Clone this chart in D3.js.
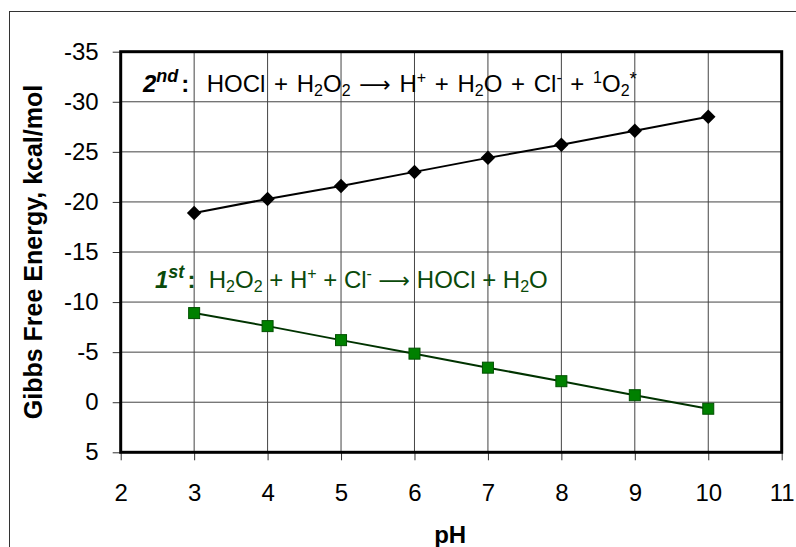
<!DOCTYPE html>
<html>
<head>
<meta charset="utf-8">
<script src="https://cdn.jsdelivr.net/npm/d3@7"></script>
<style>
  body { margin: 0; background: #fff; }
  svg { font-family: Arial, "Liberation Sans", sans-serif; }
</style>
</head>
<body>
<div id="chart"></div>
<script>
const pH = [3, 4, 5, 6, 7, 8, 9, 10];
const secondStep = [-18.9, -20.3, -21.6, -23.0, -24.4, -25.7, -27.1, -28.5];
const firstStep = [-8.9, -7.6, -6.2, -4.85, -3.45, -2.1, -0.7, 0.65];
const xTicks = [2, 3, 4, 5, 6, 7, 8, 9, 10, 11];
const yTicks = [-35, -30, -25, -20, -15, -10, -5, 0, 5];

// label pieces: [text, kind]
const secondLabel = [['2', 'num'], ['nd', 'numsup'], [':', 'colon'], ['  HOCl + H', ''], ['2', 'sub'], ['O', ''], ['2', 'sub'],
  [' ', ''], ['\u27F6', 'arrow'], [' H', ''], ['+', 'sup'], [' + H', ''], ['2', 'sub'], ['O + Cl', ''], ['-', 'sup'], [' + ', ''], ['1', 'sup'],
  ['O', ''], ['2', 'sub'], ['*', 'star']];
const firstLabel = [['1', 'num'], ['st', 'numsup'], [':', 'colon'], ['  H', ''], ['2', 'sub'], ['O', ''], ['2', 'sub'],
  [' + H', ''], ['+', 'sup'], [' + Cl', ''], ['-', 'sup'], [' ', ''], ['\u27F6', 'arrow'], [' HOCl + H', ''], ['2', 'sub'], ['O', '']];

const W = 796, H = 547;
const MARGIN = { TOP: 51.7, LEFT: 120.7, RIGHT: 14.3, BOTTOM: 94.7 };
const WIDTH = W - MARGIN.LEFT - MARGIN.RIGHT;
const HEIGHT = H - MARGIN.TOP - MARGIN.BOTTOM;
const FONT = 'Arial, "Liberation Sans", sans-serif';

const svg = d3.select('#chart').append('svg')
  .attr('width', W).attr('height', H);

// outer frame (cut at right/bottom)
svg.append('rect')
  .attr('x', 9.5).attr('y', 11.5)
  .attr('width', W).attr('height', H)
  .attr('fill', 'none').attr('stroke', '#333').attr('stroke-width', 1);

const g = svg.append('g')
  .attr('transform', `translate(${MARGIN.LEFT}, ${MARGIN.TOP})`);

const x = d3.scaleLinear().domain([2, 11]).range([0, WIDTH]);
const y = d3.scaleLinear().domain([-35, 5]).range([0, HEIGHT]);

// grid
g.append('g').selectAll('line').data(xTicks.slice(1, -1)).join('line')
  .attr('x1', d => x(d)).attr('x2', d => x(d))
  .attr('y1', 0).attr('y2', HEIGHT)
  .attr('stroke', '#444').attr('stroke-width', 1);
g.append('g').selectAll('line').data(yTicks.slice(1, -1)).join('line')
  .attr('y1', d => y(d)).attr('y2', d => y(d))
  .attr('x1', 0).attr('x2', WIDTH)
  .attr('stroke', '#444').attr('stroke-width', 1);

// axes
const xAxis = g.append('g')
  .attr('transform', `translate(0, ${HEIGHT})`)
  .call(d3.axisBottom(x).tickValues(xTicks).tickSize(8).tickPadding(24).tickFormat(d => String(d)));
const yAxis = g.append('g')
  .call(d3.axisLeft(y).tickValues(yTicks).tickSize(8).tickPadding(14).tickFormat(d => String(d)));
[xAxis, yAxis].forEach(a => {
  a.select('.domain').remove();
  a.selectAll('line').attr('stroke', '#333');
  a.selectAll('text').attr('font-size', 24).attr('fill', '#000').attr('font-family', FONT);
});

// plot border
g.append('rect')
  .attr('width', WIDTH).attr('height', HEIGHT)
  .attr('fill', 'none').attr('stroke', '#000').attr('stroke-width', 3);

// series
const line = d3.line().x(d => x(d[0])).y(d => y(d[1]));
const s2 = pH.map((p, i) => [p, secondStep[i]]);
const s1 = pH.map((p, i) => [p, firstStep[i]]);

g.append('path').datum(s2).attr('d', line)
  .attr('fill', 'none').attr('stroke', '#000').attr('stroke-width', 2);
g.append('g').selectAll('path').data(s2).join('path')
  .attr('d', d3.symbol(d3.symbolSquare, 105))
  .attr('transform', d => `translate(${x(d[0])}, ${y(d[1])}) rotate(45)`)
  .attr('fill', '#000');

g.append('path').datum(s1).attr('d', line)
  .attr('fill', 'none').attr('stroke', '#003300').attr('stroke-width', 2);
g.append('g').selectAll('rect').data(s1).join('rect')
  .attr('x', d => x(d[0]) - 5.5).attr('y', d => y(d[1]) - 5.5)
  .attr('width', 11).attr('height', 11)
  .attr('fill', '#008000').attr('stroke', '#005000').attr('stroke-width', 1);

// reaction labels
function addLabel(parts, px, py, color, spacing) {
  const t = svg.append('text').attr('x', px).attr('y', py)
    .attr('font-size', 24).attr('fill', color).attr('xml:space', 'preserve')
    .attr('word-spacing', spacing);
  let shift = 0;
  parts.forEach(([txt, kind]) => {
    let target = 0, size = 24;
    if (kind === 'sup') { target = -9; size = 16; }
    if (kind === 'star') { target = -7; size = 19; }
    if (kind === 'numsup') { target = -10; size = 18; }
    if (kind === 'sub') { target = 4; size = 16; }
    const ts = t.append('tspan').text(txt)
      .attr('dy', target - shift).attr('font-size', size);
    if (kind === 'num' || kind === 'numsup') ts.attr('font-weight', 'bold').attr('font-style', 'italic');
    if (kind === 'colon') ts.attr('font-weight', 'bold').attr('dx', 3);
    if (kind === 'arrow') ts.attr('font-family', '"DejaVu Sans", sans-serif').attr('font-size', 22);
    shift = target;
  });
}
addLabel(secondLabel, 143, 92, '#000', 2);
addLabel(firstLabel, 155, 288, '#0a4a0a', 0);

// axis titles
svg.append('text')
  .attr('x', MARGIN.LEFT + WIDTH / 2 - 1).attr('y', 543)
  .attr('text-anchor', 'middle').attr('font-size', 24).attr('font-weight', 'bold')
  .text('pH');
svg.append('text')
  .attr('transform', `translate(42, ${MARGIN.TOP + HEIGHT / 2}) rotate(-90)`)
  .attr('text-anchor', 'middle').attr('font-size', 25).attr('font-weight', 'bold')
  .text('Gibbs Free Energy, kcal/mol');
</script>
</body>
</html>
